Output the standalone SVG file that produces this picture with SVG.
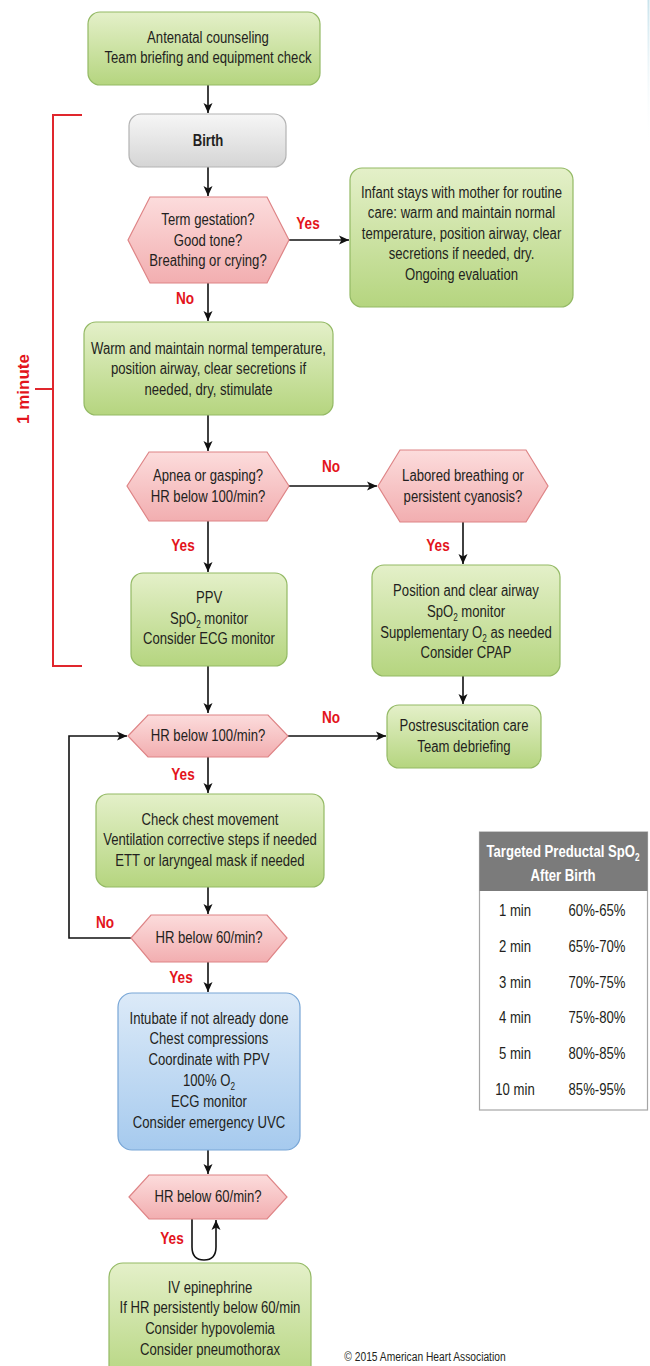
<svg xmlns="http://www.w3.org/2000/svg" width="650" height="1366" viewBox="0 0 650 1366">
<defs>
<linearGradient id="gGreen" x1="0" y1="0" x2="0" y2="1"><stop offset="0" stop-color="#e4f0c9"/><stop offset="1" stop-color="#b5d57f"/></linearGradient>
<linearGradient id="gPink" x1="0" y1="0" x2="0" y2="1"><stop offset="0" stop-color="#fcdcdc"/><stop offset="1" stop-color="#f2aeb0"/></linearGradient>
<linearGradient id="gGray" x1="0" y1="0" x2="0" y2="1"><stop offset="0" stop-color="#f6f6f6"/><stop offset="1" stop-color="#d5d5d5"/></linearGradient>
<linearGradient id="gBlue" x1="0" y1="0" x2="0" y2="1"><stop offset="0" stop-color="#dceaf8"/><stop offset="1" stop-color="#a6caee"/></linearGradient>
<linearGradient id="gEdge" x1="0" y1="0" x2="0" y2="1"><stop offset="0" stop-color="#c9e3ec"/><stop offset="1" stop-color="#ffffff" stop-opacity="0"/></linearGradient>
<marker id="ah" markerUnits="userSpaceOnUse" markerWidth="10" markerHeight="10" refX="10" refY="5" orient="auto"><path d="M0,0.5 L10,5 L0,9.5 L2.5,5 z" fill="#111"/></marker>
<style>
.green{fill:url(#gGreen);stroke:#93b964;stroke-width:1.2}
.pink{fill:url(#gPink);stroke:#de8486;stroke-width:1.2}
.gray{fill:url(#gGray);stroke:#b3b3b3;stroke-width:1.2}
.blue{fill:url(#gBlue);stroke:#78a6d6;stroke-width:1.2}
.t{font-family:"Liberation Sans",Arial,sans-serif;font-size:16px;fill:#231f20;text-anchor:middle}
.b{font-weight:bold}
.lbl{font-family:"Liberation Sans",Arial,sans-serif;font-size:16px;font-weight:bold;fill:#e3141c;text-anchor:middle}
.conn{stroke:#111;stroke-width:1.6;fill:none}
.arr{marker-end:url(#ah)}
.sub{font-size:10px}
.hdr{font-family:"Liberation Sans",Arial,sans-serif;font-size:16px;font-weight:bold;fill:#ffffff;text-anchor:middle}
.cell{font-family:"Liberation Sans",Arial,sans-serif;font-size:16px;fill:#231f20;text-anchor:middle}
</style>
</defs>
<rect width="650" height="1366" fill="#ffffff"/>
<rect x="647.5" y="0" width="2" height="150" fill="url(#gEdge)"/>

<g id="bracket">
<path d="M82,115 H53 V666 H82 M35,389 H53" fill="none" stroke="#e0262d" stroke-width="2"/>
<text transform="translate(29,389) rotate(-90)" class="lbl" style="font-size:17px">1 minute</text>
</g>

<g id="connectors">
<path class="conn arr" d="M208,85 V113"/>
<path class="conn arr" d="M208,167 V196"/>
<path class="conn arr" d="M289,240 H349"/>
<path class="conn arr" d="M208,283 V321"/>
<path class="conn arr" d="M208,415 V451"/>
<path class="conn arr" d="M289,486 H377"/>
<path class="conn arr" d="M208,521 V572"/>
<path class="conn arr" d="M463,522 V564"/>
<path class="conn arr" d="M463,676 V704"/>
<path class="conn arr" d="M208,666 V713"/>
<path class="conn arr" d="M288,736 H386"/>
<path class="conn arr" d="M131,938 H69 V736 H127"/>
<path class="conn arr" d="M208,757 V793"/>
<path class="conn arr" d="M208,887 V914"/>
<path class="conn arr" d="M208,962 V992"/>
<path class="conn arr" d="M208,1150 V1174"/>
<path class="conn arr" d="M192,1219 V1247 Q192,1260 204,1260 Q216,1260 216,1247 V1220"/>
<text class="lbl" transform="translate(308,229) scale(.85 1)">Yes</text>
<text class="lbl" transform="translate(185,304) scale(.85 1)">No</text>
<text class="lbl" transform="translate(331,472) scale(.85 1)">No</text>
<text class="lbl" transform="translate(183,551) scale(.85 1)">Yes</text>
<text class="lbl" transform="translate(438,551) scale(.85 1)">Yes</text>
<text class="lbl" transform="translate(331,723) scale(.85 1)">No</text>
<text class="lbl" transform="translate(183,780) scale(.85 1)">Yes</text>
<text class="lbl" transform="translate(105,928) scale(.85 1)">No</text>
<text class="lbl" transform="translate(181,983) scale(.85 1)">Yes</text>
<text class="lbl" transform="translate(172,1244) scale(.85 1)">Yes</text>
</g>

<g id="antenatal">
<rect class="green" x="88" y="12" width="232" height="73" rx="12"/>
<text class="t" transform="translate(208,0) scale(.82 1)"><tspan x="0" y="43">Antenatal counseling</tspan><tspan x="0" y="63.5">Team briefing and equipment check</tspan></text>
</g>

<g id="birth">
<rect class="gray" x="129" y="114" width="157" height="53" rx="12"/>
<text class="t b" transform="translate(208,0) scale(.82 1)"><tspan x="0" y="146">Birth</tspan></text>
</g>

<g id="q-term">
<polygon class="pink" points="128,240 150,197 267,197 289,240 267,283 150,283"/>
<text class="t" transform="translate(208,0) scale(.82 1)"><tspan x="0" y="225.5">Term gestation?</tspan><tspan x="0" y="246">Good tone?</tspan><tspan x="0" y="266.5">Breathing or crying?</tspan></text>
</g>

<g id="routine">
<rect class="green" x="350" y="168" width="223" height="139" rx="12"/>
<text class="t" transform="translate(461.5,0) scale(.82 1)"><tspan x="0" y="198">Infant stays with mother for routine</tspan><tspan x="0" y="218.5">care: warm and maintain normal</tspan><tspan x="0" y="239">temperature, position airway, clear</tspan><tspan x="0" y="259.5">secretions if needed, dry.</tspan><tspan x="0" y="280">Ongoing evaluation</tspan></text>
</g>

<g id="warm">
<rect class="green" x="84" y="322" width="249" height="93" rx="12"/>
<text class="t" transform="translate(208.5,0) scale(.82 1)"><tspan x="0" y="354">Warm and maintain normal temperature,</tspan><tspan x="0" y="374.5">position airway, clear secretions if</tspan><tspan x="0" y="395">needed, dry, stimulate</tspan></text>
</g>

<g id="q-apnea">
<polygon class="pink" points="127,486 149,452 267,452 289,486 267,521 149,521"/>
<text class="t" transform="translate(208,0) scale(.82 1)"><tspan x="0" y="481">Apnea or gasping?</tspan><tspan x="0" y="502">HR below 100/min?</tspan></text>
</g>

<g id="q-labored">
<polygon class="pink" points="378,486 400,450 526,450 548,486 526,522 400,522"/>
<text class="t" transform="translate(463,0) scale(.82 1)"><tspan x="0" y="481">Labored breathing or</tspan><tspan x="0" y="502">persistent cyanosis?</tspan></text>
</g>

<g id="ppv">
<rect class="green" x="131" y="573" width="156" height="93" rx="12"/>
<text class="t" transform="translate(209,0) scale(.82 1)"><tspan x="0" y="603">PPV</tspan><tspan x="0" y="624">SpO<tspan class="sub" dy="4">2</tspan><tspan dy="-4"> monitor</tspan></tspan><tspan x="0" y="644.5">Consider ECG monitor</tspan></text>
</g>

<g id="airway">
<rect class="green" x="372" y="565" width="188" height="111" rx="12"/>
<text class="t" transform="translate(466,0) scale(.82 1)"><tspan x="0" y="596">Position and clear airway</tspan><tspan x="0" y="617">SpO<tspan class="sub" dy="4">2</tspan><tspan dy="-4"> monitor</tspan></tspan><tspan x="0" y="638">Supplementary O<tspan class="sub" dy="4">2</tspan><tspan dy="-4"> as needed</tspan></tspan><tspan x="0" y="658.5">Consider CPAP</tspan></text>
</g>

<g id="post">
<rect class="green" x="387" y="705" width="154" height="63" rx="12"/>
<text class="t" transform="translate(464,0) scale(.82 1)"><tspan x="0" y="731">Postresuscitation care</tspan><tspan x="0" y="752">Team debriefing</tspan></text>
</g>

<g id="q-hr100">
<polygon class="pink" points="128,736 148,715 268,715 288,736 268,757 148,757"/>
<text class="t" transform="translate(208,0) scale(.82 1)"><tspan x="0" y="741.5">HR below 100/min?</tspan></text>
</g>

<g id="chest">
<rect class="green" x="96" y="794" width="228" height="93" rx="12"/>
<text class="t" transform="translate(210,0) scale(.82 1)"><tspan x="0" y="825">Check chest movement</tspan><tspan x="0" y="845.5">Ventilation corrective steps if needed</tspan><tspan x="0" y="866">ETT or laryngeal mask if needed</tspan></text>
</g>

<g id="q-hr60a">
<polygon class="pink" points="131,938 151,915 267,915 287,938 267,962 151,962"/>
<text class="t" transform="translate(209,0) scale(.82 1)"><tspan x="0" y="943.5">HR below 60/min?</tspan></text>
</g>

<g id="compress">
<rect class="blue" x="118" y="993" width="182" height="157" rx="14"/>
<text class="t" transform="translate(209,0) scale(.82 1)"><tspan x="0" y="1024">Intubate if not already done</tspan><tspan x="0" y="1044.5">Chest compressions</tspan><tspan x="0" y="1065">Coordinate with PPV</tspan><tspan x="0" y="1086">100% O<tspan class="sub" dy="4">2</tspan></tspan><tspan x="0" y="1107">ECG monitor</tspan><tspan x="0" y="1128">Consider emergency UVC</tspan></text>
</g>

<g id="q-hr60b">
<polygon class="pink" points="129,1197 149,1175 267,1175 287,1197 267,1219 149,1219"/>
<text class="t" transform="translate(208,0) scale(.82 1)"><tspan x="0" y="1202.5">HR below 60/min?</tspan></text>
</g>

<g id="epi">
<rect class="green" x="109" y="1263" width="202" height="120" rx="14"/>
<text class="t" transform="translate(210,0) scale(.82 1)"><tspan x="0" y="1293">IV epinephrine</tspan><tspan x="0" y="1313.5">If HR persistently below 60/min</tspan><tspan x="0" y="1334.5">Consider hypovolemia</tspan><tspan x="0" y="1355">Consider pneumothorax</tspan></text>
</g>

<g id="table">
<rect x="479.5" y="832" width="168" height="278" fill="#ffffff" stroke="#a6a6a6" stroke-width="1.2"/>
<rect x="479.5" y="832" width="168" height="59" fill="#7b7b7b"/>
<text class="hdr" transform="translate(563,0) scale(.82 1)"><tspan x="0" y="857">Targeted Preductal SpO<tspan class="sub" dy="4">2</tspan></tspan><tspan x="0" y="881">After Birth</tspan></text>
<g class="cell">
<text transform="translate(515,916) scale(.82 1)">1 min</text><text transform="translate(597,916) scale(.82 1)">60%-65%</text>
<text transform="translate(515,952) scale(.82 1)">2 min</text><text transform="translate(597,952) scale(.82 1)">65%-70%</text>
<text transform="translate(515,988) scale(.82 1)">3 min</text><text transform="translate(597,988) scale(.82 1)">70%-75%</text>
<text transform="translate(515,1023) scale(.82 1)">4 min</text><text transform="translate(597,1023) scale(.82 1)">75%-80%</text>
<text transform="translate(515,1059) scale(.82 1)">5 min</text><text transform="translate(597,1059) scale(.82 1)">80%-85%</text>
<text transform="translate(515,1095) scale(.82 1)">10 min</text><text transform="translate(597,1095) scale(.82 1)">85%-95%</text>
</g>
</g>

<text class="t" transform="translate(425,1361) scale(.82 1)" style="font-size:12.5px">© 2015 American Heart Association</text>
</svg>
